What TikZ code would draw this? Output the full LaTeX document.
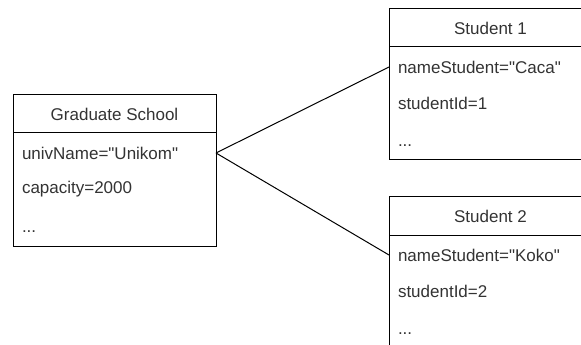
\documentclass[tikz,border=0pt]{standalone}
\usepackage{fontspec}
\setmainfont{Liberation Sans}[Ligatures=TeXOff]
\usetikzlibrary{positioning}

\definecolor{textgray}{HTML}{333333}

\tikzset{
    classhead/.style={draw, outer sep=0pt, line width=0.75pt,
        minimum width=152.25pt, minimum height=28.5pt,
        text=textgray, font=\fontsize{12.75}{15}\selectfont},
    classbody/.style={draw, outer sep=0pt, line width=0.75pt,
        minimum width=152.25pt, minimum height=84.75pt},
    classrow/.style={outer sep=0pt, inner xsep=6.75pt, inner ysep=0pt,
        text width=138.75pt, align=left, minimum height=27pt,
        text=textgray, font=\fontsize{12.75}{15}\selectfont},
    link/.style={line width=0.75pt}
}

\begin{document}
\begin{tikzpicture}[x=0.75pt, y=-0.75pt]
        \clip (0, 0) rectangle (581, 345);

        % graduate school
        \node[classhead] (gs) at (114.5, 114) {Graduate School};
        \node[classbody, below=0pt of gs] (gsbody) {};
        \node[classrow] (gsname) at (114.5, 153) {univName="Unikom"};
        \node[classrow] (gscap) at (114.5, 189) {capacity=2000};
        \node[classrow] (gsmore) at (114.5, 232) {...};

        % student 1
        \node[classhead] (sa) at (490.5, 28) {Student 1};
        \node[classbody, below=0pt of sa] (sabody) {};
        \node[classrow] (saname) at (490.5, 67) {nameStudent="Caca"};
        \node[classrow] (said) at (490.5, 103) {studentId=1};
        \node[classrow] (samore) at (490.5, 146) {...};

        % student 2
        \node[classhead] (sb) at (490.5, 216) {Student 2};
        \node[classbody, below=0pt of sb] (sbbody) {};
        \node[classrow] (sbname) at (490.5, 255) {nameStudent="Koko"};
        \node[classrow] (sbid) at (490.5, 291) {studentId=2};
        \node[classrow] (sbmore) at (490.5, 334) {...};

        \draw[link] (gsname.east) -- (saname.west);
        \draw[link] (gsname.east) -- (sbname.west);
    \end{tikzpicture}
\end{document}
